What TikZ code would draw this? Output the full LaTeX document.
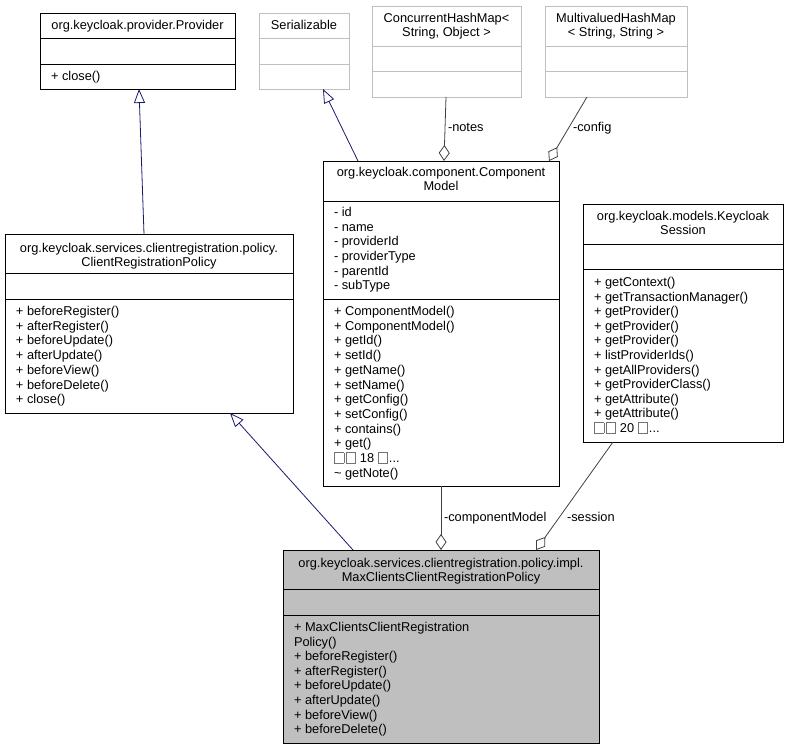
\documentclass[tikz,border=0pt]{standalone}
\usepackage{fontspec}
\setmainfont{Liberation Sans}
\usetikzlibrary{arrows.meta,calc}
\definecolor{navyedge}{HTML}{191970}
\definecolor{edgegray}{HTML}{404040}
\definecolor{boxgray}{HTML}{BFBFBF}
\newcommand\mbx{\kern0.3pt{\setlength\fboxsep{0pt}\setlength\fboxrule{0.8pt}\textcolor{black!55}{\fbox{\rule{0pt}{9.5pt}\hspace{8.5pt}}}}\kern0.8pt}
\newcommand\tdots{...}
\begin{document}
\begin{tikzpicture}[x=1pt,y=-1pt,
  cls/.style={draw=black,line width=0.9pt,fill=white,inner sep=0pt,outer sep=0pt,anchor=north west},
  gcls/.style={draw=boxgray,line width=0.9pt,fill=white,inner sep=0pt,outer sep=0pt,anchor=north west},
  hcls/.style={draw=black,line width=0.9pt,fill=boxgray,inner sep=0pt,outer sep=0pt,anchor=north west},
  divline/.style={line width=0.9pt,draw=black},
  gdivline/.style={line width=0.9pt,draw=boxgray},
  txt/.style={inner sep=0pt,outer sep=0pt,text height=9pt,text depth=0pt,font=\fontsize{12.8}{14}\selectfont},
  ttl/.style={txt,anchor=center},
  mem/.style={txt,anchor=west},
  lbl/.style={txt,anchor=west},
  inh/.style={draw=navyedge,line width=0.8pt,-{Triangle[open,length=14pt,width=11pt]}},
  agg/.style={draw=edgegray,line width=0.8pt,{Diamond[open,length=16pt,width=11pt]}-},
]
\useasboundingbox (0,0) rectangle (788,749);

% Provider
\node[cls,minimum width=195pt,minimum height=76pt] (prov) at (40,13) {};
\draw[divline] ($(prov.north west)+(0,25)$) -- ($(prov.north east)+(0,25)$);
\draw[divline] ($(prov.north west)+(0,51)$) -- ($(prov.north east)+(0,51)$);
\node[ttl] (provt) at (137.5,25) {org.keycloak.provider.Provider};
\node[mem] (provm) at (51,76) {+ close()};

% Serializable
\node[gcls,minimum width=90pt,minimum height=76pt] (ser) at (259,13) {};
\draw[gdivline] ($(ser.north west)+(0,25)$) -- ($(ser.north east)+(0,25)$);
\draw[gdivline] ($(ser.north west)+(0,51)$) -- ($(ser.north east)+(0,51)$);
\node[ttl] (sert) at (304,25) {Serializable};

% ConcurrentHashMap
\node[gcls,minimum width=149pt,minimum height=91pt] (chm) at (372,6) {};
\draw[gdivline] ($(chm.north west)+(0,40)$) -- ($(chm.north east)+(0,40)$);
\draw[gdivline] ($(chm.north west)+(0,65)$) -- ($(chm.north east)+(0,65)$);
\node[ttl] (chmt1) at (446.5,18.5) {ConcurrentHashMap<};
\node[ttl] (chmt2) at (446.5,32.5) {String, Object >};

% MultivaluedHashMap
\node[gcls,minimum width=142pt,minimum height=91pt] (mvhm) at (545,6) {};
\draw[gdivline] ($(mvhm.north west)+(0,40)$) -- ($(mvhm.north east)+(0,40)$);
\draw[gdivline] ($(mvhm.north west)+(0,65)$) -- ($(mvhm.north east)+(0,65)$);
\node[ttl] (mvhmt1) at (616,18.5) {MultivaluedHashMap};
\node[ttl] (mvhmt2) at (616,32.5) {< String, String >};

% ComponentModel
\node[cls,minimum width=236pt,minimum height=325pt] (cm) at (323,161) {};
\draw[divline] ($(cm.north west)+(0,40)$) -- ($(cm.north east)+(0,40)$);
\draw[divline] ($(cm.north west)+(0,138)$) -- ($(cm.north east)+(0,138)$);
\node[ttl] (cmt1) at (441,172.5) {org.keycloak.component.Component};
\node[ttl] (cmt2) at (441,186.5) {Model};
\foreach[count=\i] \t in {{- id},{- name},{- providerId},{- providerType},{- parentId},{- subType}}
  \node[mem] (cma\i) at (334,{212+(\i-1)*14.7}) {\t};
\foreach[count=\i] \t in {{+ ComponentModel()},{+ ComponentModel()},{+ getId()},{+ setId()},{+ getName()},{+ setName()},{+ getConfig()},{+ setConfig()},{+ contains()},{+ get()},{\mbx\mbx{} 18 \mbx\tdots},{\textasciitilde{} getNote()}}
  \node[mem] (cmm\i) at (334,{311+(\i-1)*14.7}) {\t};

% KeycloakSession
\node[cls,minimum width=200pt,minimum height=238pt] (ks) at (583,204) {};
\draw[divline] ($(ks.north west)+(0,40)$) -- ($(ks.north east)+(0,40)$);
\draw[divline] ($(ks.north west)+(0,65)$) -- ($(ks.north east)+(0,65)$);
\node[ttl] (kst1) at (683,216.5) {org.keycloak.models.Keycloak};
\node[ttl] (kst2) at (683,230.5) {Session};
\foreach[count=\i] \t in {{+ getContext()},{+ getTransactionManager()},{+ getProvider()},{+ getProvider()},{+ getProvider()},{+ listProviderIds()},{+ getAllProviders()},{+ getProviderClass()},{+ getAttribute()},{+ getAttribute()},{\mbx\mbx{} 20 \mbx\tdots}}
  \node[mem] (ksm\i) at (594,{282+(\i-1)*14.6}) {\t};

% ClientRegistrationPolicy
\node[cls,minimum width=288pt,minimum height=179pt] (crp) at (5,234) {};
\draw[divline] ($(crp.north west)+(0,39)$) -- ($(crp.north east)+(0,39)$);
\draw[divline] ($(crp.north west)+(0,65)$) -- ($(crp.north east)+(0,65)$);
\node[ttl] (crpt1) at (149,247.5) {org.keycloak.services.clientregistration.policy.};
\node[ttl] (crpt2) at (149,261.5) {ClientRegistrationPolicy};
\foreach[count=\i] \t in {{+ beforeRegister()},{+ afterRegister()},{+ beforeUpdate()},{+ afterUpdate()},{+ beforeView()},{+ beforeDelete()},{+ close()}}
  \node[mem] (crpm\i) at (16,{311+(\i-1)*14.7}) {\t};

% MaxClientsClientRegistrationPolicy
\node[hcls,minimum width=316pt,minimum height=193pt] (max) at (283,550) {};
\draw[divline] ($(max.north west)+(0,39)$) -- ($(max.north east)+(0,39)$);
\draw[divline] ($(max.north west)+(0,65)$) -- ($(max.north east)+(0,65)$);
\node[ttl] (maxt1) at (441,562.5) {org.keycloak.services.clientregistration.policy.impl.};
\node[ttl] (maxt2) at (441,577) {MaxClientsClientRegistrationPolicy};
\foreach[count=\i] \t in {{+ MaxClientsClientRegistration},{Policy()},{+ beforeRegister()},{+ afterRegister()},{+ beforeUpdate()},{+ afterUpdate()},{+ beforeView()},{+ beforeDelete()}}
  \node[mem] (maxm\i) at (294,{627+(\i-1)*14.6}) {\t};

% connectors
\draw[inh] ($(crp.north west)+(139,0)$) -- ($(prov.south west)+(99,0)$);
\draw[inh] ($(cm.north west)+(35,0)$) -- ($(ser.south west)+(64,0)$);
\draw[agg] ($(cm.north west)+(121,0)$) -- ($(chm.south west)+(74,0)$);
\draw[agg] ($(cm.north west)+(226,0)$) -- ($(mvhm.south west)+(42,0)$);
\draw[inh] ($(max.north west)+(70,0)$) -- ($(crp.south west)+(225,0)$);
\draw[agg] ($(max.north west)+(158,0)$) -- ($(cm.south west)+(118,0)$);
\draw[agg] ($(max.north west)+(253,0)$) -- ($(ks.south west)+(30,0)$);

% labels
\node[lbl] (lnotes) at (448,127) {-notes};
\node[lbl] (lconfig) at (573,127) {-config};
\node[lbl] (lcm) at (444,517) {-componentModel};
\node[lbl] (lsess) at (567,517) {-session};
\end{tikzpicture}
\end{document}
